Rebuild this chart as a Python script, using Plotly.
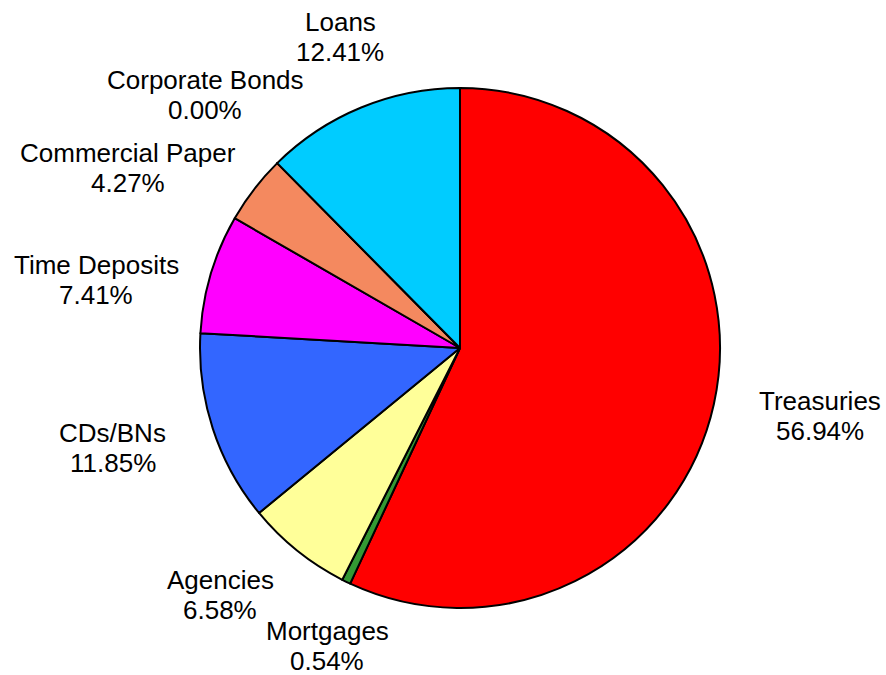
import plotly.graph_objects as go

# Portfolio allocation by asset class (percent of total)
categories = ["Treasuries", "Mortgages", "Agencies", "CDs/BNs",
              "Time Deposits", "Commercial Paper", "Corporate Bonds", "Loans"]
shares = [56.94, 0.54, 6.58, 11.85, 7.41, 4.27, 0.00, 12.41]
slice_colors = ["#FF0000", "#339933", "#FFFF99", "#3366FF",
                "#FF00FF", "#F4895F", "#996633", "#00CCFF"]

W, H = 886, 675
cx, cy, r = 460, 348, 260  # pie centre and radius in pixels

# label block centres (pixels from top-left), one per category
label_pos = [(820, 416), (327, 646), (220, 595), (113, 448),
             (96, 280), (128, 168), (205, 95), (340, 37)]

fig = go.Figure(go.Pie(
    labels=categories,
    values=shares,
    sort=False,
    direction="clockwise",
    rotation=0,
    marker=dict(colors=slice_colors, line=dict(color="black", width=2)),
    textinfo="none",
    hoverinfo="label+percent",
    showlegend=False,
    domain=dict(x=[(cx - r) / W, (cx + r) / W],
                y=[(H - cy - r) / H, (H - cy + r) / H]),
))

font = dict(family="Liberation Sans, Arial, sans-serif", size=26, color="black")
for name, val, (px, py) in zip(categories, shares, label_pos):
    fig.add_annotation(x=px / W, y=1 - (py - 15) / H, xref="paper", yref="paper",
                       text=name, showarrow=False, font=font,
                       xanchor="center", yanchor="middle")
    fig.add_annotation(x=px / W, y=1 - (py + 15) / H, xref="paper", yref="paper",
                       text=f"{val:.2f}%", showarrow=False, font=font,
                       xanchor="center", yanchor="middle")

fig.update_layout(
    width=W, height=H,
    margin=dict(l=0, r=0, t=0, b=0),
    paper_bgcolor="white", plot_bgcolor="white",
)

fig.write_html("out.html")
